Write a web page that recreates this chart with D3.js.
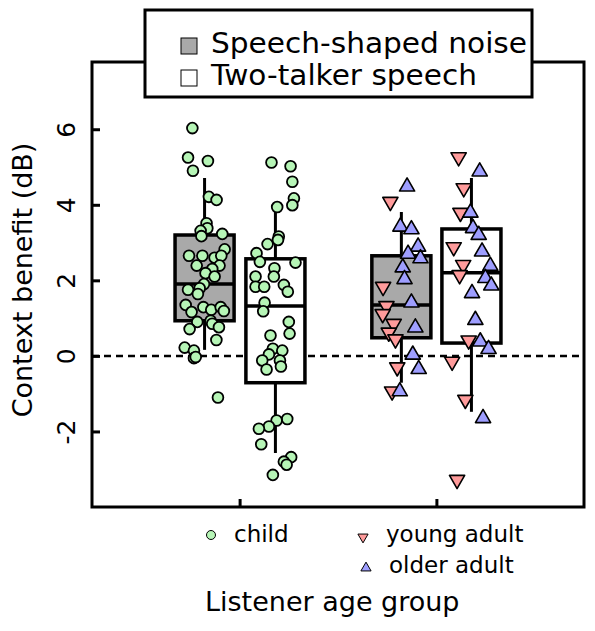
<!DOCTYPE html>
<html><head><meta charset="utf-8">
<script src="https://cdn.jsdelivr.net/npm/d3@7"></script>
<style>body{margin:0;background:#fff}svg{display:block}text{font-family:"DejaVu Sans",sans-serif;fill:#000}</style>
</head><body>
<svg id="c" width="595" height="631"></svg>
<script>
// ---- data ----
const groups = ["child", "adult"];
const conditions = ["Speech-shaped noise", "Two-talker speech"];
const yTicks = [-2, 0, 2, 4, 6];
// box stats: [lowerWhisker, Q1, median, Q3, upperWhisker]
const boxChildSSN = [0.16, 0.93, 1.90, 3.20, 4.71];
const boxChildTTS = [-2.57, -0.71, 1.32, 2.57, 3.81];
const boxAdultSSN = [-0.71, 0.48, 1.35, 2.65, 3.81];
const boxAdultTTS = [-1.48, 0.34, 2.20, 3.36, 4.71];
const boxPos = [0.822, 1.182, 1.822, 2.178];
// points: [jittered x position, context benefit dB]
const childSSN = [[0.760,6.03],[0.738,5.25],[0.839,5.16],[0.763,4.90],[0.844,4.21],[0.883,4.13],[0.832,3.51],[0.836,3.38],[0.802,3.31],[0.806,3.17],[0.912,3.23],[0.924,2.82],[0.743,2.65],[0.811,2.65],[0.873,2.60],[0.907,2.65],[0.782,2.39],[0.898,2.39],[0.861,2.30],[0.827,2.19],[0.873,2.10],[0.819,1.90],[0.797,1.79],[0.738,1.75],[0.788,1.64],[0.726,1.35],[0.756,1.16],[0.816,1.29],[0.856,1.22],[0.904,1.29],[0.920,1.19],[0.785,0.90],[0.746,0.71],[0.853,0.93],[0.861,0.85],[0.895,0.76],[0.882,0.42],[0.721,0.22],[0.768,0.14],[0.768,-0.06],[0.777,-0.03],[0.890,-1.10]];
const childTTS = [[1.162,5.12],[1.259,5.02],[1.268,4.61],[1.276,4.17],[1.268,3.99],[1.191,3.94],[1.199,3.16],[1.195,3.07],[1.142,2.96],[1.086,2.72],[1.103,2.49],[1.177,2.32],[1.284,2.47],[1.081,2.10],[1.174,2.10],[1.081,1.83],[1.125,1.83],[1.225,1.88],[1.245,1.70],[1.127,1.41],[1.120,1.18],[1.250,0.90],[1.254,0.59],[1.157,0.54],[1.169,0.19],[1.217,0.14],[1.149,0.04],[1.205,-0.12],[1.115,-0.12],[1.210,-0.28],[1.137,-0.36],[1.242,-1.67],[1.188,-1.71],[1.149,-1.87],[1.098,-1.93],[1.110,-2.34],[1.262,-2.68],[1.225,-2.80],[1.239,-2.88],[1.169,-3.15]];
const youngSSN = [[1.766,4.08],[1.729,1.83],[1.746,1.32],[1.727,1.11],[1.783,0.85],[1.758,0.62],[1.792,0.44],[1.801,-0.30],[1.775,-0.94]];
const olderSSN = [[1.851,4.48],[1.817,3.42],[1.873,3.35],[1.907,2.89],[1.856,2.70],[1.919,2.58],[1.829,2.34],[1.838,2.03],[1.873,1.41],[1.893,0.75],[1.880,0.03],[1.910,-0.35],[1.814,-0.94]];
const youngTTS = [[2.113,5.26],[2.139,4.44],[2.122,3.79],[2.088,2.88],[2.136,2.41],[2.118,2.14],[2.164,0.41],[2.080,-0.15],[2.147,-1.16],[2.105,-3.28]];
const olderTTS = [[2.220,4.88],[2.173,3.79],[2.186,3.38],[2.215,3.20],[2.232,2.76],[2.274,2.38],[2.249,2.06],[2.279,1.86],[2.181,1.66],[2.198,0.95],[2.223,0.38],[2.265,0.18],[2.237,-1.65]];

// ---- layout ----
const svg = d3.select("#c");
const L = 92, R = 584, T = 62, B = 507;
const x = d3.scaleLinear().domain([0.25, 2.75]).range([L, R]);
const y = d3.scaleLinear().domain([-4.0, 7.78]).range([B, T]);
const boxW = 0.30;
const fills = ["#a9a9a9", "#ffffff"];
const green = "#b6f5b6", red = "#ff9b9b", blue = "#9e9eff";

// frame
svg.append("rect").attr("x", L).attr("y", T).attr("width", R - L).attr("height", B - T)
  .attr("fill", "none").attr("stroke", "#000").attr("stroke-width", 3);

// y axis
const yAxis = d3.axisLeft(y).tickValues(yTicks).tickSize(-8).tickFormat(d => String(d));
const ya = svg.append("g").attr("transform", `translate(${L},0)`).call(yAxis);
ya.select(".domain").remove();
ya.selectAll(".tick line").attr("stroke", "#000").attr("stroke-width", 3);
ya.selectAll(".tick text").attr("font-size", 25).attr("font-family", "DejaVu Sans")
  .attr("text-anchor", "middle").attr("dy", 0)
  .attr("transform", "rotate(-90)").attr("x", 0).attr("y", -17);

// x axis ticks
const xAxis = d3.axisBottom(x).tickValues([1, 2]).tickSize(-8).tickFormat("");
const xa = svg.append("g").attr("transform", `translate(0,${B})`).call(xAxis);
xa.select(".domain").remove();
xa.selectAll(".tick line").attr("stroke", "#000").attr("stroke-width", 3);

// zero reference line
svg.append("line").attr("x1", L).attr("x2", R).attr("y1", y(0)).attr("y2", y(0))
  .attr("stroke", "#000").attr("stroke-width", 2.5).attr("stroke-dasharray", "7,5");

// boxes
const boxes = [boxChildSSN, boxChildTTS, boxAdultSSN, boxAdultTTS];
boxes.forEach((s, i) => {
  const cx = x(boxPos[i]);
  const g = svg.append("g");
  g.append("line").attr("x1", cx).attr("x2", cx).attr("y1", y(s[0])).attr("y2", y(s[4]))
    .attr("stroke", "#000").attr("stroke-width", 3);
  const x0 = x(boxPos[i] - boxW / 2), x1 = x(boxPos[i] + boxW / 2);
  g.append("rect").attr("x", x0).attr("y", y(s[3])).attr("width", x1 - x0).attr("height", y(s[1]) - y(s[3]))
    .attr("fill", fills[i % 2]).attr("stroke", "#000").attr("stroke-width", 3.5);
  g.append("line").attr("x1", x0).attr("x2", x1).attr("y1", y(s[2])).attr("y2", y(s[2]))
    .attr("stroke", "#000").attr("stroke-width", 3.5);
});

// points
function circles(data) {
  svg.append("g").selectAll("circle").data(data).join("circle")
    .attr("cx", d => x(d[0])).attr("cy", d => y(d[1])).attr("r", 5.4)
    .attr("fill", green).attr("stroke", "#000").attr("stroke-width", 1.8);
}
const triUp = d3.symbol().type(d3.symbolTriangle).size(100);
function tris(data, up, col) {
  svg.append("g").selectAll("path").data(data).join("path")
    .attr("d", triUp())
    .attr("transform", d => `translate(${x(d[0])},${y(d[1])}) rotate(${up ? 0 : 180})`)
    .attr("fill", col).attr("stroke", "#000").attr("stroke-width", 1.6).attr("stroke-linejoin", "round");
}
circles(childSSN);
circles(childTTS);
tris(youngSSN, false, red);
tris(olderSSN, true, blue);
tris(youngTTS, false, red);
tris(olderTTS, true, blue);

// legend (conditions)
const lg = svg.append("g");
lg.append("rect").attr("x", 145).attr("y", 10).attr("width", 387).attr("height", 87)
  .attr("fill", "#fff").attr("stroke", "#000").attr("stroke-width", 3);
const legLen = [316, 266];
conditions.forEach((c, i) => {
  lg.append("rect").attr("x", 181).attr("y", 38 + i * 32).attr("width", 16).attr("height", 16)
    .attr("fill", fills[i]).attr("stroke", "#000").attr("stroke-width", 1);
  lg.append("text").attr("x", 211).attr("y", 53 + i * 32).attr("font-size", 28)
    .attr("textLength", legLen[i]).attr("lengthAdjust", "spacingAndGlyphs").text(c);
});

// group labels under axis
const gl = svg.append("g");
gl.append("circle").attr("cx", 211).attr("cy", 535).attr("r", 4.5).attr("fill", green).attr("stroke", "#000").attr("stroke-width", 1);
gl.append("text").attr("x", 234).attr("y", 542).attr("font-size", 23).text("child");
const triSmall = d3.symbol().type(d3.symbolTriangle).size(45);
gl.append("path").attr("d", triSmall()).attr("transform", "translate(363,537) rotate(180)")
  .attr("fill", red).attr("stroke", "#000").attr("stroke-width", 1);
gl.append("text").attr("x", 386).attr("y", 542).attr("font-size", 23).text("young adult");
gl.append("path").attr("d", triSmall()).attr("transform", "translate(366,568)")
  .attr("fill", blue).attr("stroke", "#000").attr("stroke-width", 1);
gl.append("text").attr("x", 389).attr("y", 573).attr("font-size", 23).text("older adult");

// axis titles
svg.append("text").attr("x", 205).attr("y", 611).attr("font-size", 27).text("Listener age group");
svg.append("text").attr("transform", "translate(32,280) rotate(-90)")
  .attr("text-anchor", "middle").attr("font-size", 27).text("Context benefit (dB)");
</script>
</body></html>
